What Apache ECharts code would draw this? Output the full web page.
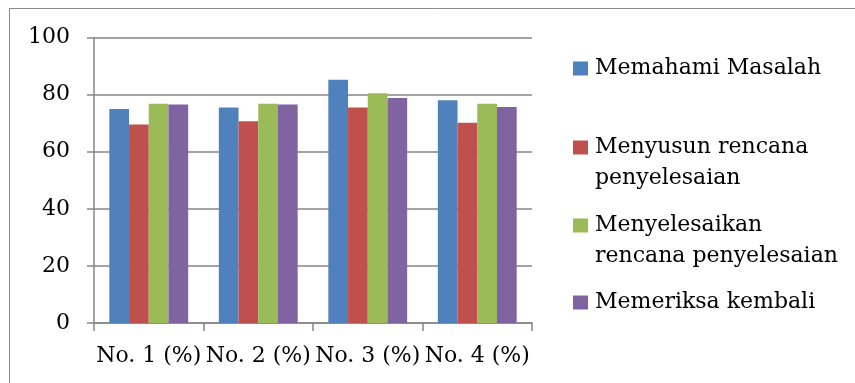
<!DOCTYPE html>
<html>
<head>
<meta charset="utf-8">
<script src="https://cdn.jsdelivr.net/npm/echarts@6/dist/echarts.min.js"></script>
<style>
html,body{margin:0;padding:0;background:#fff;}
#chart{width:855px;height:383px;}
</style>
</head>
<body>
<div id="chart"></div>
<script>
const categories = ['No. 1 (%)', 'No. 2 (%)', 'No. 3 (%)', 'No. 4 (%)'];
const memahami = [75, 75.5, 85.2, 78];
const menyusun = [69.5, 70.7, 75.5, 70.1];
const menyelesaikan = [76.8, 76.8, 80.5, 76.8];
const memeriksa = [76.5, 76.5, 78.8, 75.7];
const seriesNames = ['Memahami Masalah', 'Menyusun rencana penyelesaian', 'Menyelesaikan rencana penyelesaian', 'Memeriksa kembali'];
const legendLines = [['Memahami Masalah'], ['Menyusun rencana', 'penyelesaian'], ['Menyelesaikan', 'rencana penyelesaian'], ['Memeriksa kembali']];
const yTicks = [0, 20, 40, 60, 80, 100];
const colors = ['#4F81BD', '#C0504D', '#9BBB59', '#8064A2'];

const FONT = 'DejaVu Serif';
const chart = echarts.init(document.getElementById('chart'));
const seriesData = [memahami, menyusun, menyelesaikan, memeriksa];
const legendTops = [53, 132, 210, 287];

const rich = {
  ind: { width: 22, height: 31, lineHeight: 31 },
  g: { width: 7, height: 31, lineHeight: 31 },
  t: { fontFamily: FONT, fontSize: 22, color: '#000', lineHeight: 31 }
};
colors.forEach((c, i) => {
  rich['m' + i] = { width: 15, height: 14, backgroundColor: c, lineHeight: 31 };
});

const legends = seriesNames.map((name, i) => ({
  data: [name],
  left: 568,
  top: legendTops[i],
  padding: 0,
  itemWidth: 0,
  itemHeight: 1,
  itemGap: 0,
  textGap: 0,
  icon: 'rect',
  itemStyle: { opacity: 0 },
  selectedMode: false,
  textStyle: { rich: rich, lineHeight: 31 },
  formatter: () => legendLines[i].map((l, k) => (k === 0 ? '{m' + i + '|}{g|}' : '{ind|}') + '{t|' + l + '}').join('\n')
}));

chart.setOption({
  animation: false,
  backgroundColor: '#fff',
  color: colors,
  graphic: [{
    type: 'rect',
    shape: { x: 9.5, y: 8.5, width: 900, height: 400 },
    style: { fill: 'none', stroke: '#8a8a8a', lineWidth: 1 },
    silent: true,
    z: -1
  }],
  legend: legends,
  grid: { left: 94, right: 323, top: 37.5, bottom: 60, containLabel: false },
  xAxis: {
    type: 'category',
    data: categories,
    axisLine: { lineStyle: { color: '#868686', width: 1.5 } },
    axisTick: { show: true, length: 8, lineStyle: { color: '#868686', width: 1.5 } },
    axisLabel: { interval: 0, margin: 22, fontFamily: FONT, fontSize: 22, color: '#000' },
    splitLine: { show: false }
  },
  yAxis: {
    type: 'value',
    min: yTicks[0],
    max: yTicks[yTicks.length - 1],
    interval: 20,
    axisLine: { show: true, lineStyle: { color: '#868686', width: 1.5 } },
    axisTick: { show: true, length: 7, lineStyle: { color: '#868686', width: 1.5 } },
    axisLabel: { margin: 24, fontFamily: FONT, fontSize: 22, color: '#000' },
    splitLine: { show: true, lineStyle: { color: '#868686', width: 1.5 } }
  },
  series: seriesNames.map((name, i) => ({
    name: name,
    type: 'bar',
    data: seriesData[i],
    barGap: '0%',
    barCategoryGap: '28%',
    itemStyle: { color: colors[i] }
  }))
});
</script>
</body>
</html>
